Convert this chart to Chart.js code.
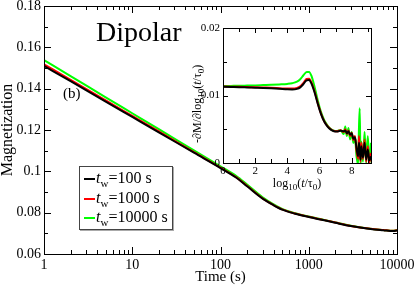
<!DOCTYPE html>
<html><head><meta charset="utf-8">
<script src="https://cdn.jsdelivr.net/npm/chart.js@4/dist/chart.umd.min.js"></script>
<style>
html,body{margin:0;padding:0;background:#fff;}
#wrap{position:relative;width:415px;height:285px;overflow:hidden;font-family:'Liberation Serif','Times New Roman',serif;color:#000;}
canvas{position:absolute;}
.lbl{position:absolute;white-space:nowrap;line-height:1;}
.row{position:absolute;left:0;width:92px;height:18px;}
.row .ln{position:absolute;left:4px;width:11px;height:2px;top:8px;}
.row .tx{position:absolute;left:16px;top:0;font-size:16px;line-height:1;white-space:nowrap;}
sub{font-size:11px;vertical-align:-4px;line-height:0;}
.small sub{font-size:9px;vertical-align:-3px;}
</style></head><body>
<div id="wrap">
<canvas id="main" width="415" height="285" style="left:0;top:0"></canvas>
<canvas id="inset" width="200" height="180" style="left:180px;top:18px"></canvas>
<div class="lbl" style="left:96px;top:18px;font-size:28px">Dipolar</div>
<div class="lbl" style="left:63px;top:86px;font-size:15px">(b)</div>
<div class="lbl small" id="insetX" style="left:297px;top:177px;font-size:12px;transform:translateX(-50%)">log<sub>10</sub>(<i>t</i>/τ<sub>0</sub>)</div>
<div class="lbl small" id="insetY" style="left:191px;top:143px;font-size:12px;transform-origin:0 0;transform:rotate(-90deg)">-∂M/∂log<sub>10</sub>(<i>t</i>/τ<sub>0</sub>)</div>
<div id="legend" style="position:absolute;left:79px;top:166px;width:92px;height:62px;border:1px solid #444;box-shadow:1px 1px 0 #aaa;background:#fff">
  <div class="row" style="top:3px"><div class="ln" style="background:#000"></div><div class="tx"><i>t</i><sub>w</sub>=100 s</div></div>
  <div class="row" style="top:22.5px"><div class="ln" style="background:#ff0000"></div><div class="tx"><i>t</i><sub>w</sub>=1000 s</div></div>
  <div class="row" style="top:42px"><div class="ln" style="background:#00ff00"></div><div class="tx"><i>t</i><sub>w</sub>=10000 s</div></div>
</div>
</div>
<script>
// ---------- main plot data ----------
const times = [1,2,5,10,20,50,100,150,200,300,400,500,700,1000,1500,2000,3000,5000,7000,9000,10000];
const mTw100   = [0.1510,0.1436,0.1337,0.1263,0.1189,0.1090,0.1016,0.0970,0.0928,0.0868,0.0836,0.0815,0.0795,0.0779,0.0763,0.0751,0.0735,0.0721,0.0715,0.0711,0.0714];
const mTw1000  = [0.1518,0.1443,0.1343,0.1268,0.1193,0.1093,0.1018,0.0972,0.0930,0.0869,0.0837,0.0816,0.0796,0.0780,0.0764,0.0752,0.0736,0.0722,0.0716,0.0712,0.0715];
const mTw10000 = [0.1538,0.1461,0.1358,0.1281,0.1204,0.1101,0.1024,0.0978,0.0936,0.0874,0.0840,0.0818,0.0797,0.0781,0.0765,0.0753,0.0737,0.0722,0.0716,0.0712,0.0716];
const xTickVals = [1,10,100,1000,10000];
const yTickVals = [0.06,0.08,0.10,0.12,0.14,0.16,0.18];

// ---------- inset data ----------
const logT = [0,0.5,1,1.5,2,2.5,3,3.5,4,4.3,4.6,4.8,5.0,5.2,5.35,5.5,5.7,5.9,6.1,6.3,6.5,6.7,6.9,7.1,7.3,7.5,7.6,7.7,7.8,7.9,8.0,8.1,8.2,8.3,8.4,8.45,8.5,8.55,8.6,8.7,8.8,8.9,9.0,9.1,9.2];
const dTw100 = [0.01130,0.01127,0.01124,0.01120,0.01116,0.01112,0.01107,0.01100,0.01092,0.01090,0.01098,0.01120,0.01170,0.01225,0.01230,0.01175,0.01040,0.00870,0.00720,0.00610,0.00540,0.00495,0.00470,0.00465,0.00478,0.00470,0.00480,0.00440,0.00470,0.00420,0.00440,0.00360,0.00380,0.00220,0.00100,0.00300,0.00200,0.00050,0.00250,0.00080,0.00300,0.00050,0.00200,0.00040,0.00100];
const dTw1000 = [0.01132,0.01130,0.01128,0.01125,0.01122,0.01118,0.01114,0.01108,0.01102,0.01102,0.01112,0.01136,0.01188,0.01245,0.01250,0.01195,0.01055,0.00880,0.00728,0.00615,0.00545,0.00500,0.00475,0.00470,0.00485,0.00460,0.00500,0.00430,0.00480,0.00400,0.00450,0.00340,0.00400,0.00180,0.00060,0.00400,0.00150,0.00020,0.00300,0.00060,0.00350,0.00020,0.00250,0.00010,0.00150];
const dTw10000 = [0.01140,0.01142,0.01144,0.01147,0.01150,0.01154,0.01158,0.01164,0.01172,0.01182,0.01205,0.01240,0.01300,0.01350,0.01350,0.01290,0.01120,0.00920,0.00750,0.00630,0.00555,0.00505,0.00478,0.00475,0.00490,0.00430,0.00540,0.00400,0.00520,0.00350,0.00460,0.00300,0.00390,0.00100,-0.00020,0.00500,0.00810,-0.00050,0.00320,0.00020,0.00460,0.00000,0.00400,-0.00020,0.00300];
const insetXTicks = [0,2,4,6,8];
const insetYTicks = [0,0.01,0.02];

const seriesLabels = ['t_w=100 s','t_w=1000 s','t_w=10000 s'];
const seriesColors = ['#000000','#ff0000','#00ff00'];
const FONT = "'Liberation Serif', 'Times New Roman', serif";
Chart.defaults.font.family = FONT;
Chart.defaults.color = '#000';

// ---------- plugin: inward ticks + frame ----------
const frameTicks = {
  id:'frameTicks',
  afterDatasetsDraw(chart, args, o){
    const {ctx, chartArea:a, scales} = chart;
    const xs = scales.x, ys = scales.y;
    ctx.save();
    ctx.strokeStyle = '#000'; ctx.lineWidth = 1;
    const line=(x1,y1,x2,y2)=>{ctx.beginPath();ctx.moveTo(x1,y1);ctx.lineTo(x2,y2);ctx.stroke();};
    [[o.xMajor,o.majLen],[o.xMinor,o.minLen]].forEach(([vals,len])=>vals.forEach(v=>{
      const x=Math.round(xs.getPixelForValue(v))+0.5;
      line(x,a.bottom,x,a.bottom-len); line(x,a.top,x,a.top+len);
    }));
    [[o.yMajor,o.majLen],[o.yMinor,o.minLen]].forEach(([vals,len])=>vals.forEach(v=>{
      const y=Math.round(ys.getPixelForValue(v))+0.5;
      line(a.left,y,a.left+len,y); line(a.right,y,a.right-len,y);
    }));
    ctx.lineWidth = o.frameW;
    ctx.strokeRect(Math.round(a.left)+0.5, Math.round(a.top)+0.5, Math.round(a.right-a.left), Math.round(a.bottom-a.top));
    ctx.restore();
  }
};

function ds(xs, ys, i, w){
  return {label:seriesLabels[i], data: xs.map((x,k)=>({x:x,y:ys[k]})), borderColor:seriesColors[i], backgroundColor:seriesColors[i], borderWidth:w, pointRadius:0, fill:false, cubicInterpolationMode:'monotone'};
}

const xMinorMain=[]; [1,10,100,1000].forEach(d=>{for(let k=2;k<=9;k++) xMinorMain.push(d*k);});
const noGrid = {display:false, drawTicks:false, tickLength:0};

new Chart(document.getElementById('main'), {
  type:'line',
  data:{datasets:[ds(times,mTw100,0,2), ds(times,mTw1000,1,2), ds(times,mTw10000,2,2)]},
  options:{
    responsive:false, animation:false, devicePixelRatio:1,
    layout:{padding:{top:6,right:18,left:0,bottom:0}},
    plugins:{legend:{display:false}, tooltip:{enabled:false},
      frameTicks:{xMajor:xTickVals, xMinor:xMinorMain, yMajor:yTickVals, yMinor:[0.07,0.09,0.11,0.13,0.15,0.17], majLen:7, minLen:4, frameW:1}},
    scales:{
      x:{type:'logarithmic', min:1, max:10000, grid:noGrid, border:{display:false},
         afterBuildTicks:s=>{s.ticks = xTickVals.map(v=>({value:v}));},
         afterFit:s=>{s.height=31; s.paddingLeft=0; s.paddingRight=0;},
         ticks:{padding:3, maxRotation:0, autoSkip:false, color:'#000', font:{family:FONT,size:14}, callback:v=>String(v)},
         title:{display:true, text:'Time (s)', color:'#000', font:{family:FONT,size:15,lineHeight:1}, padding:0}},
      y:{type:'linear', min:0.06, max:0.18, grid:noGrid, border:{display:false},
         afterBuildTicks:s=>{s.ticks = yTickVals.map(v=>({value:v}));},
         afterFit:s=>{s.width=44; s.paddingTop=0; s.paddingBottom=0;},
         ticks:{padding:3, color:'#000', font:{family:FONT,size:14}, callback:v=>Number(v.toFixed(2)).toString()},
         title:{display:true, text:'Magnetization', color:'#000', font:{family:FONT,size:16,lineHeight:1}, padding:0}}
    }
  },
  plugins:[frameTicks]
});

new Chart(document.getElementById('inset'), {
  type:'line',
  data:{datasets:[ds(logT,dTw100,0,2), ds(logT,dTw1000,1,2), ds(logT,dTw10000,2,2)]},
  options:{
    responsive:false, animation:false, devicePixelRatio:1,
    layout:{padding:{top:10,right:9,left:0,bottom:0}},
    plugins:{legend:{display:false}, tooltip:{enabled:false},
      frameTicks:{xMajor:insetXTicks, xMinor:[1,3,5,7,9], yMajor:insetYTicks, yMinor:[0.005,0.015], majLen:5, minLen:4, frameW:1}},
    scales:{
      x:{type:'linear', min:0, max:9.2, grid:noGrid, border:{display:false},
         afterBuildTicks:s=>{s.ticks = insetXTicks.map(v=>({value:v}));},
         afterFit:s=>{s.height=35; s.paddingLeft=0; s.paddingRight=0;},
         ticks:{padding:2, maxRotation:0, autoSkip:false, color:'#000', font:{family:FONT,size:11}, callback:v=>String(v)}},
      y:{type:'linear', min:0, max:0.02, grid:noGrid, border:{display:false},
         afterBuildTicks:s=>{s.ticks = insetYTicks.map(v=>({value:v}));},
         afterFit:s=>{s.width=43; s.paddingTop=0; s.paddingBottom=0;},
         ticks:{padding:3, color:'#000', font:{family:FONT,size:11}, callback:v=>v===0?'0':v.toFixed(2)}}
    }
  },
  plugins:[frameTicks]
});
</script>
</body></html>
